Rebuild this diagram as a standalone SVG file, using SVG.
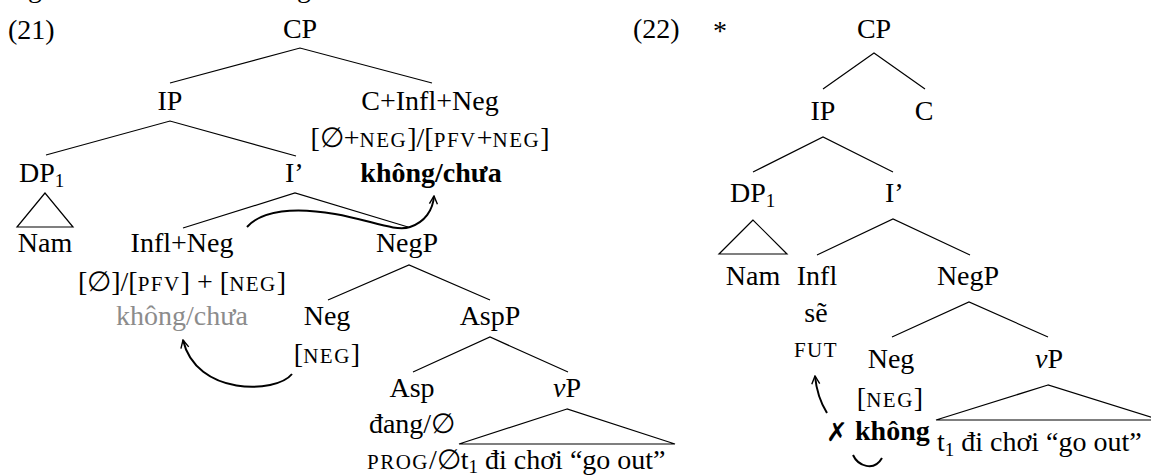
<svg xmlns="http://www.w3.org/2000/svg" width="1151" height="475" viewBox="0 0 1151 475">
<style>
text{font-family:"Liberation Serif","DejaVu Serif",serif;font-size:28px;fill:#000}
.m{text-anchor:middle}
.sc{font-size:21px;letter-spacing:1.5px}
.sub{font-size:19px}
.b{font-weight:bold}
.g{fill:#8c8c8c}
.ln{stroke:#000;stroke-width:1.2;fill:none}
.arr{stroke:#000;stroke-width:2;fill:none;marker-end:url(#ah)}
</style>
<defs>
<marker id="ah" viewBox="0 0 10 10" refX="9" refY="5" markerWidth="10" markerHeight="10" markerUnits="userSpaceOnUse" orient="auto">
<path d="M1,1 L9,5 L1,9" fill="none" stroke="#000" stroke-width="1.4"/>
</marker>
</defs>
<rect width="1151" height="475" fill="#fff"/>
<text x="28" y="-3">g</text>
<text x="297" y="-3">g</text>
<g id="tree21">
<text id="lbl21" x="8" y="39">(21)</text>
<g id="n21-CP"><text class="m" x="300" y="38">CP</text></g>
<g id="n21-IP"><text class="m" x="170" y="110">IP</text></g>
<g id="n21-C"><text class="m" x="430" y="110">C+Infl+Neg</text><text class="m" x="430" y="147">[∅+<tspan class="sc">NEG</tspan>]/[<tspan class="sc">PFV</tspan>+<tspan class="sc">NEG</tspan>]</text><text class="m b" x="431" y="182">không/chưa</text></g>
<g id="n21-DP"><text x="19" y="182">DP<tspan class="sub" dy="5">1</tspan></text></g>
<g id="n21-Ibar"><text x="285" y="182">I’</text></g>
<g id="n21-Nam"><text class="m" x="45" y="252">Nam</text></g>
<g id="n21-Infl"><text class="m" x="182" y="252">Infl+Neg</text><text class="m" x="182" y="291">[∅]/[<tspan class="sc">PFV</tspan>] + [<tspan class="sc">NEG</tspan>]</text><text class="m g" x="182" y="325">không/chưa</text></g>
<g id="n21-NegP"><text class="m" x="407" y="252">NegP</text></g>
<g id="n21-Neg"><text class="m" x="327" y="325">Neg</text><text class="m" x="327" y="363">[<tspan class="sc">NEG</tspan>]</text></g>
<g id="n21-AspP"><text class="m" x="490" y="325">AspP</text></g>
<g id="n21-Asp"><text class="m" x="412" y="397">Asp</text><text class="m" x="412" y="433">đang/∅</text></g>
<g id="n21-vP"><text class="m" x="567" y="397"><tspan font-style="italic">v</tspan>P</text></g>
<g id="n21-vPc"><text x="367" y="469"><tspan class="sc">PROG</tspan>/∅t<tspan class="sub" dy="4">1</tspan><tspan dy="-4"> đi chơi “go out”</tspan></text></g>
</g>
<g id="tree22">
<text id="lbl22" x="633" y="38">(22)</text>
<text x="720" y="40" class="m">*</text>
<g id="n22-CP"><text class="m" x="874" y="38">CP</text></g>
<g id="n22-IP"><text class="m" x="823" y="120">IP</text></g>
<g id="n22-C"><text class="m" x="924" y="120">C</text></g>
<g id="n22-DP"><text x="730" y="202">DP<tspan class="sub" dy="5">1</tspan></text></g>
<g id="n22-Ibar"><text x="885" y="202">I’</text></g>
<g id="n22-Nam"><text class="m" x="753" y="285">Nam</text></g>
<g id="n22-Infl"><text class="m" x="817" y="285">Infl</text><text class="m" x="816" y="322">sẽ</text><text class="m sc" x="816" y="357">FUT</text></g>
<g id="n22-NegP"><text class="m" x="968" y="285">NegP</text></g>
<g id="n22-Neg"><text class="m" x="891" y="368">Neg</text><text class="m" x="890" y="407">[<tspan class="sc">NEG</tspan>]</text></g>
<g id="n22-vP"><text class="m" x="1049" y="368"><tspan font-style="italic">v</tspan>P</text></g>
<g id="n22-khong"><text x="826" y="441" style="font-family:'DejaVu Sans',sans-serif;font-size:26px;font-weight:bold">✗</text><text class="b" x="855" y="440">không</text></g>
<g id="n22-vPc"><text x="937" y="451">t<tspan class="sub" dy="5">1</tspan><tspan dy="-5"> đi chơi “go out”</tspan></text></g>
</g>
<g id="connectors">
<path class="ln" d="M170,83 L300,48 L432,83"/>
<path class="ln" d="M46,155 L170,121 L296,156"/>
<path class="ln" d="M45,193 L17,227 L73,227 Z"/>
<path class="ln" d="M183,228 L295,193 L408,227"/>
<path class="ln" d="M328,300 L409,265 L490,300"/>
<path class="ln" d="M413,372 L490,337 L568,372"/>
<path class="ln" d="M567,409 L459,444 L675,444 Z"/>
<path class="arr" d="M247,227 C262,210 295,207 335,214 C370,220 395,232 410,227 C425,222 433,210 434,196"/>
<path class="arr" d="M292,374 C276,394 196,396 183,340"/>
<path class="ln" d="M823,89 L874,53 L925,89"/>
<path class="ln" d="M753,172 L823,137 L893,172"/>
<path class="ln" d="M753,220 L719,254 L787,254 Z"/>
<path class="ln" d="M817,255 L893,219 L970,255"/>
<path class="ln" d="M892,337 L969,302 L1048,337"/>
<path class="ln" d="M1048,385 L936,420 L1160,420 Z"/>
<path class="arr" d="M827,413 Q817,397 815,376"/>
<path class="ln" style="stroke-width:2" d="M853,455 C858,466 874,472 882,458"/>
</g>
</svg>
